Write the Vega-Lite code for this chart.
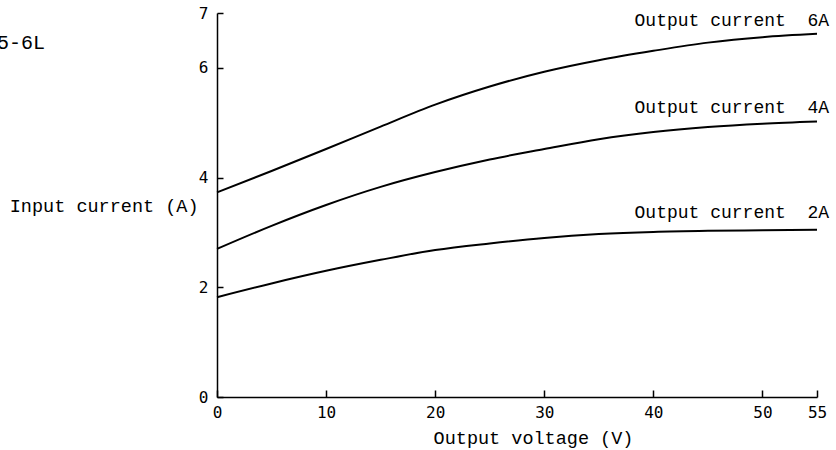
{
  "$schema": "https://vega.github.io/schema/vega-lite/v6.json",
  "autosize": "none",
  "width": 600,
  "height": 384,
  "padding": {"left": 217, "top": 13, "right": 19, "bottom": 53},
  "background": "white",
  "title": {
    "text": "5-6L",
    "anchor": "start",
    "frame": "group",
    "font": "Liberation Mono",
    "fontSize": 20,
    "fontWeight": "normal",
    "color": "black",
    "dx": -220,
    "dy": 62,
    "baseline": "middle"
  },
  "datasets": {
    "curves": [
      {"series": "6A", "voltage": 0, "current": 3.73},
      {"series": "6A", "voltage": 5, "current": 4.12},
      {"series": "6A", "voltage": 10, "current": 4.52},
      {"series": "6A", "voltage": 15, "current": 4.93},
      {"series": "6A", "voltage": 20, "current": 5.33},
      {"series": "6A", "voltage": 25, "current": 5.66},
      {"series": "6A", "voltage": 30, "current": 5.93},
      {"series": "6A", "voltage": 35, "current": 6.14},
      {"series": "6A", "voltage": 40, "current": 6.31},
      {"series": "6A", "voltage": 45, "current": 6.46},
      {"series": "6A", "voltage": 50, "current": 6.56},
      {"series": "6A", "voltage": 55, "current": 6.62},
      {"series": "4A", "voltage": 0, "current": 2.70},
      {"series": "4A", "voltage": 5, "current": 3.12},
      {"series": "4A", "voltage": 10, "current": 3.50},
      {"series": "4A", "voltage": 15, "current": 3.83},
      {"series": "4A", "voltage": 20, "current": 4.10},
      {"series": "4A", "voltage": 25, "current": 4.33},
      {"series": "4A", "voltage": 30, "current": 4.52},
      {"series": "4A", "voltage": 35, "current": 4.70},
      {"series": "4A", "voltage": 40, "current": 4.83},
      {"series": "4A", "voltage": 45, "current": 4.92},
      {"series": "4A", "voltage": 50, "current": 4.98},
      {"series": "4A", "voltage": 55, "current": 5.02},
      {"series": "2A", "voltage": 0, "current": 1.82},
      {"series": "2A", "voltage": 5, "current": 2.07},
      {"series": "2A", "voltage": 10, "current": 2.30},
      {"series": "2A", "voltage": 15, "current": 2.50},
      {"series": "2A", "voltage": 20, "current": 2.68},
      {"series": "2A", "voltage": 25, "current": 2.80},
      {"series": "2A", "voltage": 30, "current": 2.90},
      {"series": "2A", "voltage": 35, "current": 2.97},
      {"series": "2A", "voltage": 40, "current": 3.01},
      {"series": "2A", "voltage": 45, "current": 3.03},
      {"series": "2A", "voltage": 50, "current": 3.04},
      {"series": "2A", "voltage": 55, "current": 3.05}
    ],
    "labels": [
      {"series": "6A", "voltage": 55, "current": 6.85, "label": "Output current\u00a0\u00a06A"},
      {"series": "4A", "voltage": 55, "current": 5.27, "label": "Output current\u00a0\u00a04A"},
      {"series": "2A", "voltage": 55, "current": 3.35, "label": "Output current\u00a0\u00a02A"}
    ]
  },
  "config": {
    "view": {"stroke": null},
    "axis": {
      "domainColor": "black",
      "domainWidth": 1.5,
      "tickColor": "black",
      "tickWidth": 1.5,
      "grid": false,
      "labelColor": "black",
      "labelFont": "DejaVu Sans Mono",
      "labelFontSize": 16,
      "titleColor": "black",
      "titleFont": "Liberation Mono",
      "titleFontSize": 18.5,
      "titleFontWeight": "normal"
    }
  },
  "layer": [
    {
      "data": {"name": "curves"},
      "mark": {"type": "line", "interpolate": "monotone", "color": "black", "strokeWidth": 2},
      "encoding": {
        "x": {
          "field": "voltage",
          "type": "quantitative",
          "scale": {"domain": [0, 55], "nice": false},
          "axis": {
            "values": [0, 10, 20, 30, 40, 50, 55],
            "format": "d",
            "tickSize": -7,
            "labelPadding": 14,
            "labelFlush": false,
            "title": "Output voltage (V)",
            "titleX": 316,
            "titleY": 40,
            "titleAlign": "center",
            "titleBaseline": "middle"
          }
        },
        "y": {
          "field": "current",
          "type": "quantitative",
          "scale": {"domain": [0, 7], "nice": false},
          "axis": {
            "values": [0, 2, 4, 6, 7],
            "format": "d",
            "tickSize": -6,
            "labelPadding": 15,
            "labelFlush": false,
            "title": "Input current (A)",
            "titleAngle": 0,
            "titleAlign": "right",
            "titleBaseline": "middle",
            "titleX": -19,
            "titleY": 192
          }
        },
        "detail": {"field": "series"}
      }
    },
    {
      "data": {"name": "labels"},
      "mark": {"type": "text", "align": "right", "baseline": "middle", "dx": 12, "font": "Liberation Mono", "fontSize": 18, "color": "black"},
      "encoding": {
        "x": {"field": "voltage", "type": "quantitative"},
        "y": {"field": "current", "type": "quantitative"},
        "text": {"field": "label"}
      }
    }
  ]
}
